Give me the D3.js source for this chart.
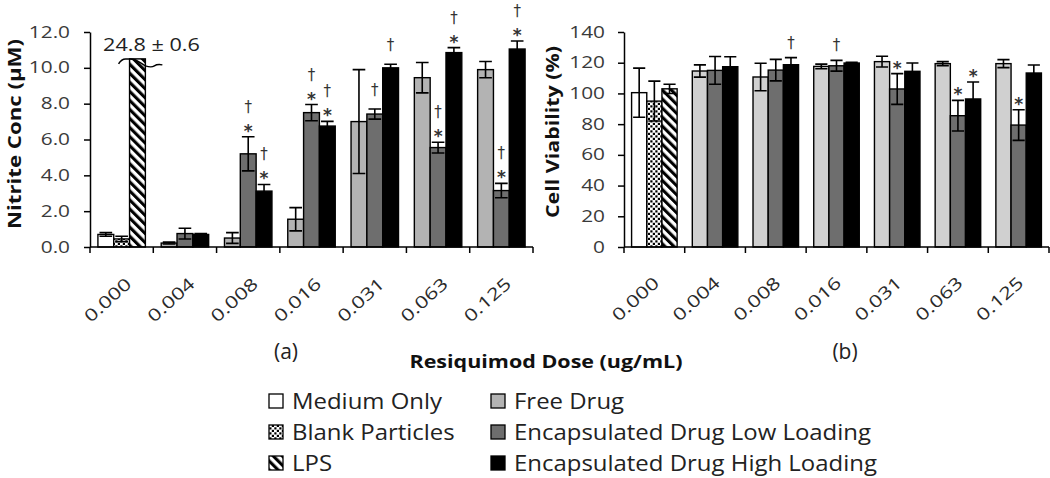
<!DOCTYPE html>
<html><head><meta charset="utf-8">
<script src="https://cdn.jsdelivr.net/npm/d3@7"></script>
<style>body{margin:0;background:#fff} svg{display:block}</style>
</head><body>
<svg id="c" width="1050" height="478"></svg>
<script>
// ---------- data ----------
const categories = ["0.000","0.004","0.008","0.016","0.031","0.063","0.125"];
const doseCategories = categories.slice(1);
const controlSeries = ["Medium Only","Blank Particles","LPS"];
const drugSeries = ["Free Drug","Encapsulated Drug Low Loading","Encapsulated Drug High Loading"];

// (a) Nitrite concentration (µM)
const nitriteControl    = [0.7, 0.45, 24.8];
const nitriteControlErr = [0.1, 0.15, 0.6];
const nitriteFree    = [0.22, 0.5, 1.55, 7.0, 9.45, 9.9];
const nitriteFreeErr = [0.05, 0.3, 0.65, 2.9, 0.85, 0.45];
const nitriteLow     = [0.75, 5.2, 7.5, 7.42, 5.55, 3.15];
const nitriteLowErr  = [0.3, 0.95, 0.45, 0.28, 0.3, 0.4];
const nitriteHigh    = [0.7, 3.12, 6.75, 10.0, 10.85, 11.05];
const nitriteHighErr = [0.05, 0.37, 0.26, 0.2, 0.28, 0.45];
const nitriteFreeMarks = ["","","","","",""];
const nitriteLowMarks  = ["","†*","†*","†","†*","†*"];
const nitriteHighMarks = ["","†*","†*","†","†*","†*"];
const nitriteTicks = [0,2,4,6,8,10,12];
const lpsLabel = "24.8 ± 0.6";

// (b) Cell viability (%)
const viabilityControl    = [100.5, 95, 103];
const viabilityControlErr = [16, 13, 3];
const viabilityFree    = [114.6, 110.7, 117.6, 120.7, 119.4, 119.4];
const viabilityFreeErr = [4, 9, 1.5, 3.5, 1.3, 2.6];
const viabilityLow     = [115, 115.2, 118, 102.9, 85.5, 79.4];
const viabilityLowErr  = [9, 7, 3.5, 10, 10, 10];
const viabilityHigh    = [117.4, 118.7, 119.8, 114.4, 96.4, 113.3];
const viabilityHighErr = [6.5, 4.6, 0.5, 5.4, 11, 5.2];
const viabilityFreeMarks = ["","","","","",""];
const viabilityLowMarks  = ["","","†","*","*","*"];
const viabilityHighMarks = ["","†","","","*",""];
const viabilityTicks = [0,20,40,60,80,100,120,140];

// ---------- drawing ----------
const svg = d3.select("#c");
const FONT = "'Open Sans', 'Liberation Sans', sans-serif";
const defs = svg.append("defs");
const pd = defs.append("pattern").attr("id","dots").attr("patternUnits","userSpaceOnUse")
  .attr("width",5).attr("height",5);
pd.append("rect").attr("width",5).attr("height",5).attr("fill","#fff");
pd.append("rect").attr("x",0.3).attr("y",0.3).attr("width",2.2).attr("height",2.2).attr("fill","#000");
pd.append("rect").attr("x",2.8).attr("y",2.8).attr("width",2.2).attr("height",2.2).attr("fill","#000");
const ps = defs.append("pattern").attr("id","stripes").attr("patternUnits","userSpaceOnUse")
  .attr("width",6.4).attr("height",6.4).attr("patternTransform","rotate(-45)");
ps.append("rect").attr("width",6.4).attr("height",6.4).attr("fill","#fff");
ps.append("rect").attr("width",3.1).attr("height",6.4).attr("fill","#000");

function stretch(sel, k){
  sel.each(function(){
    const w = this.getComputedTextLength();
    this.setAttribute("textLength", w*k);
    this.setAttribute("lengthAdjust","spacingAndGlyphs");
  });
}

const controlFills = ["#ffffff","url(#dots)","url(#stripes)"];

function drawPanel(p){
  const g = svg.append("g");
  const x = d3.scaleBand().domain(categories).range([p.x0, p.x1]);
  const bw = x.bandwidth();
  const slot = d3.scaleBand().domain([0,1,2]).range([bw/8, bw*7/8]);
  const y = d3.scaleLinear().domain([0, p.max]).range([p.yBottom, p.yTop]);
  const shown = v => v > p.max ? p.clip : v;

  const bars = [];
  controlSeries.forEach((s,i)=> bars.push({cat:categories[0], i, v:p.control[i], e:p.controlErr[i], fill:controlFills[i], marks:""}));
  doseCategories.forEach((c,j)=>{
    p.series.forEach((s,i)=> bars.push({cat:c, i, v:s.v[j], e:s.e[j], fill:s.fill, marks:s.m[j]}));
  });

  // bars
  g.selectAll("rect.bar").data(bars).join("rect").attr("class","bar")
    .attr("x", d=> x(d.cat)+slot(d.i))
    .attr("width", slot.bandwidth())
    .attr("y", d=> y(shown(d.v)))
    .attr("height", d=> y(0)-y(shown(d.v)))
    .attr("fill", d=>d.fill).attr("stroke","#000").attr("stroke-width",1.4);

  // error bars
  const eb = bars.filter(d=> d.v <= p.max);
  const capW = slot.bandwidth()*0.8;
  const eg = g.append("g").attr("stroke","#000").attr("stroke-width",1.6).attr("fill","none");
  eg.selectAll("path").data(eb).join("path")
    .attr("d", d=>{
      const cx = x(d.cat)+slot(d.i)+slot.bandwidth()/2;
      const t = y(d.v+d.e), b = y(Math.max(0,d.v-d.e));
      return `M${cx},${t}V${b}M${cx-capW/2},${t}H${cx+capW/2}M${cx-capW/2},${b}H${cx+capW/2}`;
    });

  // significance marks
  const mk = g.append("g");
  eb.filter(d=>d.marks).forEach(d=>{
    const cx = x(d.cat)+slot(d.i)+slot.bandwidth()/2;
    const top = y(d.v+d.e);
    const hasStar = d.marks.includes("*");
    if (hasStar){
      mk.append("text").text("*").attr("x",cx).attr("y",top-10+10)
        .attr("text-anchor","middle").attr("font-family","'DejaVu Sans', sans-serif").attr("font-weight","bold")
        .attr("font-size",17).attr("fill","#333");
    }
    if (d.marks.includes("†")){
      const cy = hasStar ? top-30 : top-p.daggerGap;
      mk.append("text").text("†").attr("x",cx).attr("y",cy+5)
        .attr("text-anchor","middle").attr("font-family","'DejaVu Sans', sans-serif")
        .attr("font-size",15).attr("fill","#333");
    }
  });

  // y axis
  const ya = g.append("g").attr("transform",`translate(${p.x0},0)`)
    .call(d3.axisLeft(y).tickValues(p.ticks).tickFormat(p.fmt).tickSize(6).tickSizeOuter(0).tickPadding(p.tickPad));
  ya.select(".domain").attr("stroke","#000").attr("stroke-width",1.5);
  ya.selectAll(".tick line").attr("stroke","#000").attr("stroke-width",1.5);
  ya.selectAll(".tick text").attr("font-family",FONT).attr("font-size",16).attr("fill","#3a3a3a");
  stretch(ya.selectAll(".tick text"), 1.3);

  // x axis (category boundary ticks)
  const xa = g.append("g");
  xa.append("line").attr("x1",p.x0).attr("x2",p.x1).attr("y1",p.yBottom).attr("y2",p.yBottom)
    .attr("stroke","#000").attr("stroke-width",1.5);
  const bounds = categories.map(c=>x(c)).concat([x.range()[1]]);
  xa.selectAll("line.tk").data(bounds).join("line").attr("class","tk")
    .attr("x1",d=>d).attr("x2",d=>d).attr("y1",p.yBottom).attr("y2",p.yBottom+6)
    .attr("stroke","#000").attr("stroke-width",1.5);
  const xl = xa.selectAll("text").data(categories).join("text")
    .attr("transform", c=>`translate(${x(c)+bw/2+p.lblDx},${p.yBottom+p.lblDy}) rotate(-42)`)
    .attr("text-anchor","end").attr("dy","0.35em")
    .attr("font-family",FONT).attr("font-size",17).attr("fill","#2a2a2a").text(c=>c);
  stretch(xl, 1.3);

  // y label
  g.append("text").attr("transform",`translate(${p.labelX},${p.labelY}) rotate(-90)`)
    .attr("text-anchor","middle").attr("dy","0.35em")
    .attr("font-family",FONT).attr("font-weight","bold").attr("font-size",18).attr("fill","#111")
    .attr("textLength",p.labelLen).attr("lengthAdjust","spacingAndGlyphs").text(p.label);

  // panel letter
  g.append("text").attr("x",p.letterX).attr("y",359).attr("text-anchor","middle")
    .attr("font-family",FONT).attr("font-size",21).attr("fill","#222").text(p.letter);

  return {x, y, slot, bw};
}

const A = drawPanel({
  x0:90, x1:533, yTop:32, yBottom:247, max:12, clip:10.5, ticks:nitriteTicks, fmt:d3.format(".1f"),
  tickPad:14, daggerGap:19, lblDx:7, lblDy:34,
  control:nitriteControl, controlErr:nitriteControlErr,
  series:[
    {v:nitriteFree, e:nitriteFreeErr, m:nitriteFreeMarks, fill:"#b3b3b3"},
    {v:nitriteLow,  e:nitriteLowErr,  m:nitriteLowMarks,  fill:"#6e6e6e"},
    {v:nitriteHigh, e:nitriteHighErr, m:nitriteHighMarks, fill:"#000000"}],
  label:"Nitrite Conc (µM)", labelX:15, labelY:134, labelLen:190, letter:"(a)", letterX:286
});

const B = drawPanel({
  x0:624, x1:1049, yTop:32, yBottom:247, max:140, clip:140, ticks:viabilityTicks, fmt:d3.format("d"),
  tickPad:13, daggerGap:15, lblDx:2, lblDy:33,
  control:viabilityControl, controlErr:viabilityControlErr,
  series:[
    {v:viabilityFree, e:viabilityFreeErr, m:viabilityFreeMarks, fill:"#d0d0d0"},
    {v:viabilityLow,  e:viabilityLowErr,  m:viabilityLowMarks,  fill:"#6e6e6e"},
    {v:viabilityHigh, e:viabilityHighErr, m:viabilityHighMarks, fill:"#000000"}],
  label:"Cell Viability (%)", labelX:553, labelY:132, labelLen:172, letter:"(b)", letterX:845
});

// broken LPS bar indicator + label
(function(){
  const bx = A.x(categories[0]) + A.slot(2), w = A.slot.bandwidth();
  const yc = A.y(10.5);
  svg.append("path")
    .attr("d", `M${bx-11},${yc+5} Q${bx-8},${yc} ${bx-4},${yc} L${bx+1},${yc} Q${bx+6},${yc} ${bx+w},${yc+7} Q${bx+w+6},${yc+9} ${bx+w+9},${yc+7} Q${bx+w+12},${yc+5} ${bx+w+17},${yc+6}`)
    .attr("fill","none").attr("stroke","#000").attr("stroke-width",1.5);
  const t = svg.append("text").attr("x", bx + w/2 + 14).attr("y", yc-14+6)
    .attr("text-anchor","middle").attr("font-family",FONT).attr("font-size",18).attr("fill","#222")
    .text(lpsLabel);
  stretch(t, 1.2);
})();

// x-axis title
svg.append("text").attr("x",546).attr("y",368).attr("text-anchor","middle")
  .attr("font-family",FONT).attr("font-weight","bold").attr("font-size",17).attr("fill","#111")
  .attr("textLength",273).attr("lengthAdjust","spacingAndGlyphs")
  .text("Resiquimod Dose (ug/mL)");

// legend
const legendItems = [
  {name:controlSeries[0], fill:controlFills[0], col:0, row:0},
  {name:controlSeries[1], fill:controlFills[1], col:0, row:1},
  {name:controlSeries[2], fill:controlFills[2], col:0, row:2},
  {name:drugSeries[0], fill:"#b3b3b3", col:1, row:0},
  {name:drugSeries[1], fill:"#6e6e6e", col:1, row:1},
  {name:drugSeries[2], fill:"#000000", col:1, row:2}];
const colX = [269, 491], rowY = [401, 432, 463];
const lg = svg.append("g").selectAll("g").data(legendItems).join("g")
  .attr("transform", d=>`translate(${colX[d.col]},${rowY[d.row]})`);
lg.append("rect").attr("x",0).attr("y",-7).attr("width",14).attr("height",14)
  .attr("fill",d=>d.fill).attr("stroke","#000").attr("stroke-width",1.3);
const lt = lg.append("text").attr("x",23).attr("y",7.5)
  .attr("font-family",FONT).attr("font-size",21).attr("fill","#222").text(d=>d.name);
stretch(lt, 1.14);
</script>
</body></html>
